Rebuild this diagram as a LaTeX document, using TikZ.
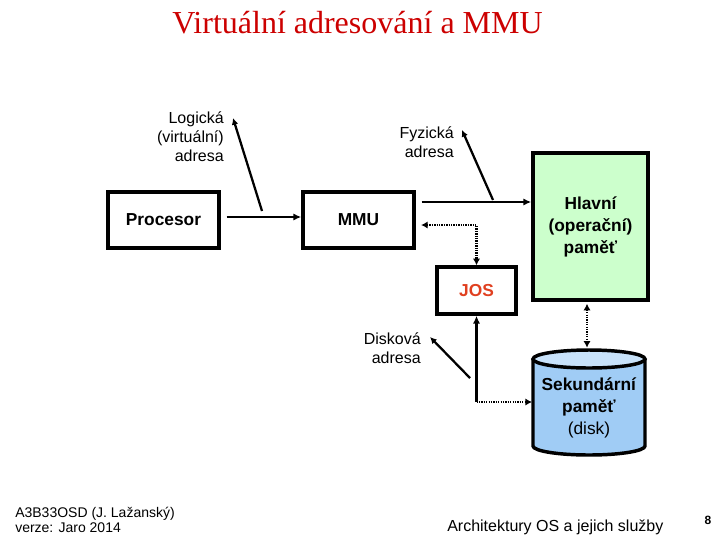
\documentclass[tikz,border=0pt]{standalone}
\usepackage{fontspec}
\setmainfont{Liberation Sans}
\newfontfamily\titlefont{Liberation Serif}
\usetikzlibrary{arrows.meta}
\definecolor{titlered}{RGB}{204,0,0}
\definecolor{memgreen}{RGB}{204,255,204}
\definecolor{diskblue}{RGB}{160,204,245}
\definecolor{disktop}{RGB}{200,226,250}
\definecolor{josred}{RGB}{224,64,32}
\begin{document}
\begin{tikzpicture}[x=0.75pt,y=-0.75pt,
 box/.style={draw,line width=2.6pt,inner sep=0pt,font=\fontsize{13}{16.5}\selectfont\bfseries,align=center},
 lbl/.style={inner sep=0pt,font=\fontsize{12}{14.25}\selectfont,align=right},
 arr/.style={line width=2pt,-{Latex[length=6pt,width=5.5pt]}},
 ptr/.style={line width=1.7pt,-{Latex[length=5pt,width=5pt]}},
 dotline/.style={line width=2pt,dash pattern=on 1pt off 0.8pt},
 dots/.style={dotline,{Latex[length=5pt,width=5.5pt]}-{Latex[length=5pt,width=5.5pt]}},
 dotsR/.style={dotline,-{Latex[length=5pt,width=5.5pt]}},
]
\useasboundingbox (0,0) rectangle (720,540);

% title
\node[anchor=base,inner sep=0pt,text=titlered,font=\titlefont\fontsize{24}{28}\selectfont] (title) at (357.5,33) {Virtuální adresování a MMU};

% boxes
\node[box,minimum width=83.25pt,minimum height=42pt] (proc) at (163.5,220) {Procesor};
\node[box,minimum width=83.25pt,minimum height=42pt] (mmu) at (358.5,220) {MMU};
\node[box,fill=memgreen,minimum width=86.25pt,minimum height=110.25pt] (hlav) at (590.5,226.5) {Hlavní\\(operační)\\paměť};
\node[box,text=josred,minimum width=59.25pt,minimum height=35.25pt] (jos) at (476.5,290.5) {JOS};

% cylinder
\fill[diskblue] (533,359) -- (533,446) arc[start angle=180,end angle=360,x radius=42pt,y radius=6.75pt] -- (645,359) -- cycle;
\draw[line width=2.6pt] (533,359) -- (533,446) arc[start angle=180,end angle=360,x radius=42pt,y radius=6.75pt] -- (645,359);
\draw[line width=2.6pt,fill=disktop] (589,359) ellipse[x radius=42pt,y radius=6.75pt];
\node[inner sep=0pt,align=center,font=\fontsize{13}{16.5}\selectfont] (disk) at (589,408) {\textbf{Sekundární}\\\textbf{paměť}\\(disk)};
\coordinate (cylL) at (532,402);
\coordinate (cylT) at (587,349);

% labels
\node[lbl,anchor=east] (logl) at (224,137) {Logická\\(virtuální)\\adresa};
\node[lbl,anchor=east] (fyzl) at (454,142) {Fyzická\\adresa};
\node[lbl,anchor=east] (disl) at (421,348) {Disková\\adresa};

% connectors
\draw[arr,shorten <=4.5pt] ([yshift=2.25pt]proc.east) -- ([yshift=2.25pt]mmu.west);
\draw[arr,shorten <=4.5pt] ([yshift=13.5pt]mmu.east) -- ([yshift=13.5pt]mmu.east -| hlav.west);
\coordinate (lgA) at (262,211); \coordinate (lgB) at (233,118);
\draw[ptr] (lgA) -- (lgB);
\coordinate (fzA) at (493,200); \coordinate (fzB) at (462,130);
\draw[ptr] (fzA) -- (fzB);
\draw[dots,shorten <=4pt] ([yshift=-3.75pt]mmu.east) -| (jos.north);
\coordinate (dj) at (476.5,402);
\draw[arr] (dj) -- (jos.south);
\draw[dotsR] (dj) -- (cylL);
\coordinate (dkA) at (470,378); \coordinate (dkB) at (430,337);
\draw[ptr] (dkA) -- (dkB);
\draw[dots,shorten <=1.5pt,shorten >=1pt] (cylT |- hlav.south) -- (cylT);

% footer
\node[anchor=west,inner sep=0pt,align=left,font=\fontsize{10.5}{11.25}\selectfont] (auth) at (15,520) {A3B33OSD (J. Lažanský)\\verze: Jaro 2014};
\node[anchor=west,inner sep=0pt,font=\fontsize{12}{14}\selectfont] (course) at (447,527) {Architektury OS a jejich služby};
\node[inner sep=0pt,font=\fontsize{9}{11}\selectfont\bfseries] (pg) at (708,520) {8};
\end{tikzpicture}
\end{document}
